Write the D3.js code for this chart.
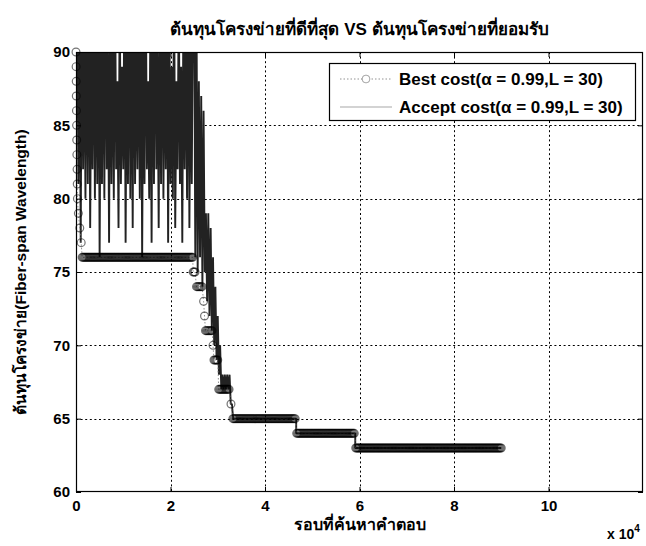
<!DOCTYPE html>
<html>
<head>
<meta charset="utf-8">
<script src="https://cdn.jsdelivr.net/npm/d3@7"></script>
<style>
  html, body { margin: 0; padding: 0; background: #fff; }
  svg { display: block; font-family: "Liberation Sans", Arial, "Noto Sans", sans-serif; }
</style>
</head>
<body>
<svg id="chart" width="646" height="546"></svg>
<script>
// ---- data -------------------------------------------------------------
const titleText = "ต้นทุนโครงข่ายที่ดีที่สุด VS ต้นทุนโครงข่ายที่ยอมรับ";
const xLabel = "รอบที่ค้นหาคำตอบ";
const yLabel = "ต้นทุนโครงข่าย(Fiber-span Wavelength)";
const legendLabels = ["Best cost(α = 0.99,L = 30)", "Accept cost(α = 0.99,L = 30)"];

const xTicks = [0, 20000, 40000, 60000, 80000, 100000];
const yTicks = [60, 65, 70, 75, 80, 85, 90];
const xMax = 120000;

// accepted cost, one sample every acceptStep iterations from iteration 0
const acceptStep = 250;
const acceptCost = [
  90, 95, 81, 93, 77, 96, 82, 92, 80, 94,
  81, 97, 78, 91, 82, 95, 80, 93, 81, 96,
  76, 92, 81, 94, 80, 97, 82, 91, 77, 95,
  81, 93, 80, 96, 82, 88, 78, 94, 81, 89,
  82, 95, 77, 92, 81, 96, 80, 93, 78, 97,
  81, 91, 82, 94, 80, 95, 76, 92, 81, 96,
  82, 88, 80, 93, 77, 95, 81, 97, 82, 91,
  78, 94, 81, 96, 80, 92, 82, 95, 77, 93,
  81, 89, 80, 96, 78, 88, 82, 94, 81, 89,
  77, 95, 82, 93, 80, 96, 78, 91, 81, 94,
  94, 76, 93, 75, 88, 76, 87, 74, 86, 75,
  79, 73, 79, 72, 78, 71, 76, 70, 74, 69,
  72, 68, 70, 67, 68, 67, 68, 67, 68, 67,
  68, 66, 66, 65
];
// accepted cost after it settles: [iteration, cost]
const acceptSettled = [
  [33500, 65], [46600, 65], [46600, 64], [59100, 64], [59100, 63], [90000, 63]
];

// best cost so far: [first iteration, last iteration, cost]
const bestSteps = [
  [0, 0, 90], [20, 20, 89], [40, 40, 88], [60, 60, 87], [90, 90, 86],
  [120, 120, 85], [150, 150, 84], [180, 180, 83], [220, 220, 82],
  [260, 260, 81], [300, 300, 80], [500, 500, 79], [800, 800, 78],
  [1100, 1100, 77], [1300, 24700, 76], [24800, 25300, 75],
  [25500, 26800, 74], [27000, 27000, 73], [27200, 27200, 72],
  [27400, 28800, 71], [29000, 29000, 70], [29200, 30000, 69],
  [30200, 32400, 67], [32800, 32800, 66], [33200, 46500, 65],
  [46700, 59000, 64], [59200, 90000, 63]
];
// a marker is recorded every markEvery iterations along each step
const markEvery = 200;

// ---- layout -----------------------------------------------------------
const svg = d3.select("#chart");
const plot = { left: 76, right: 643, top: 52, bottom: 492 };

const x = d3.scaleLinear().domain([0, xMax]).range([plot.left, plot.right]);
const y = d3.scaleLinear().domain([60, 90]).range([plot.bottom, plot.top]);

svg.append("rect").attr("width", 646).attr("height", 546).attr("fill", "#fff");

svg.append("defs").append("clipPath").attr("id", "plotClip")
  .append("rect")
  .attr("x", plot.left).attr("y", plot.top)
  .attr("width", plot.right - plot.left).attr("height", plot.bottom - plot.top);

// ---- grid -------------------------------------------------------------
const grid = svg.append("g").attr("stroke", "#000").attr("stroke-width", 1)
  .attr("stroke-dasharray", "2,2.6").attr("fill", "none");
grid.selectAll("line.vx").data(xTicks.filter(d => d > 0)).join("line")
  .attr("x1", d => Math.round(x(d)) + 0.5).attr("x2", d => Math.round(x(d)) + 0.5)
  .attr("y1", plot.top).attr("y2", plot.bottom);
grid.selectAll("line.hy").data(yTicks.filter(d => d > 60 && d < 90)).join("line")
  .attr("y1", d => Math.round(y(d)) + 0.5).attr("y2", d => Math.round(y(d)) + 0.5)
  .attr("x1", plot.left).attr("x2", plot.right);

// ---- series -----------------------------------------------------------
const data = svg.append("g").attr("clip-path", "url(#plotClip)");

const acceptPts = acceptCost.map((v, i) => [i * acceptStep, v]).concat(acceptSettled);
const line = d3.line().x(d => x(d[0])).y(d => y(d[1]));

data.append("path")
  .datum(acceptPts)
  .attr("d", line)
  .attr("fill", "none")
  .attr("stroke", "#222")
  .attr("stroke-width", 1.9)
  .attr("stroke-linejoin", "bevel");

const bestPts = [];
bestSteps.forEach(([a, b, c]) => {
  for (let it = a; it <= b; it += markEvery) bestPts.push([it, c]);
});

data.append("path")
  .datum(bestPts)
  .attr("d", line)
  .attr("fill", "none")
  .attr("stroke", "#777")
  .attr("stroke-width", 0.8)
  .attr("stroke-dasharray", "1.5,2");

// markers are kept whole even when centred on the axis edge
svg.append("g").selectAll("circle").data(bestPts).join("circle")
  .attr("cx", d => x(d[0])).attr("cy", d => y(d[1])).attr("r", 3.9)
  .attr("fill", "none")
  .attr("stroke", "#000")
  .attr("stroke-opacity", 0.55)
  .attr("stroke-width", 1.2);

// ---- axes -------------------------------------------------------------
const fmtX = d => d3.format("d")(d / 10000);
const axisFont = g => g.selectAll("text")
  .attr("font-size", 15).attr("font-weight", "bold").attr("fill", "#000")
  .attr("font-family", "Liberation Sans, Arial, sans-serif");

svg.append("g").attr("transform", `translate(0,${plot.bottom})`)
  .call(d3.axisBottom(x).tickValues(xTicks).tickFormat(fmtX).tickSize(-5).tickPadding(8))
  .call(g => g.select(".domain").remove())
  .call(axisFont);
svg.append("g").attr("transform", `translate(0,${plot.top})`)
  .call(d3.axisTop(x).tickValues(xTicks).tickFormat("").tickSize(-5))
  .call(g => g.select(".domain").remove());
svg.append("g").attr("transform", `translate(${plot.left},0)`)
  .call(d3.axisLeft(y).tickValues(yTicks).tickSize(-5).tickPadding(6))
  .call(g => g.select(".domain").remove())
  .call(axisFont);
svg.append("g").attr("transform", `translate(${plot.right},0)`)
  .call(d3.axisRight(y).tickValues(yTicks).tickFormat("").tickSize(-5))
  .call(g => g.select(".domain").remove());

svg.append("rect")
  .attr("x", plot.left + 0.5).attr("y", plot.top + 0.5)
  .attr("width", plot.right - plot.left - 1).attr("height", plot.bottom - plot.top - 1)
  .attr("fill", "none").attr("stroke", "#000").attr("stroke-width", 1.2);

// ---- legend -----------------------------------------------------------
const lg = svg.append("g");
lg.append("rect")
  .attr("x", 329.5).attr("y", 63.5).attr("width", 306).attr("height", 57)
  .attr("fill", "#fff").attr("stroke", "#000").attr("stroke-width", 1.2);
const rows = [79, 107];
lg.append("line").attr("x1", 340).attr("x2", 392).attr("y1", rows[0]).attr("y2", rows[0])
  .attr("stroke", "#777").attr("stroke-width", 0.8).attr("stroke-dasharray", "1.5,2");
lg.append("circle").attr("cx", 366).attr("cy", rows[0]).attr("r", 3.9)
  .attr("fill", "#fff").attr("stroke", "#000").attr("stroke-opacity", 0.35);
lg.append("line").attr("x1", 340).attr("x2", 392).attr("y1", rows[1]).attr("y2", rows[1])
  .attr("stroke", "#222").attr("stroke-opacity", 0.4).attr("stroke-width", 1);
lg.selectAll("text").data(legendLabels).join("text")
  .attr("x", 399).attr("y", (d, i) => rows[i] + 6)
  .attr("font-size", 17).attr("font-weight", "bold").attr("fill", "#000")
  .text(d => d);

// ---- titles -----------------------------------------------------------
const midX = (plot.left + plot.right) / 2;
svg.append("text").attr("x", midX).attr("y", 35)
  .attr("text-anchor", "middle").attr("font-size", 17).attr("font-weight", "bold")
  .attr("fill", "#000").text(titleText);
svg.append("text").attr("x", midX).attr("y", 530)
  .attr("text-anchor", "middle").attr("font-size", 16).attr("font-weight", "bold")
  .attr("fill", "#000").text(xLabel);
svg.append("text")
  .attr("transform", `translate(26,${(plot.top + plot.bottom) / 2}) rotate(-90)`)
  .attr("text-anchor", "middle").attr("font-size", 15.5).attr("font-weight", "bold")
  .attr("fill", "#000").text(yLabel);

const expo = svg.append("text").attr("x", 607).attr("y", 539)
  .attr("font-size", 14).attr("font-weight", "bold").attr("fill", "#000");
expo.append("tspan").text("x 10");
expo.append("tspan").attr("dy", -7).attr("font-size", 10).text("4");
</script>
</body>
</html>
